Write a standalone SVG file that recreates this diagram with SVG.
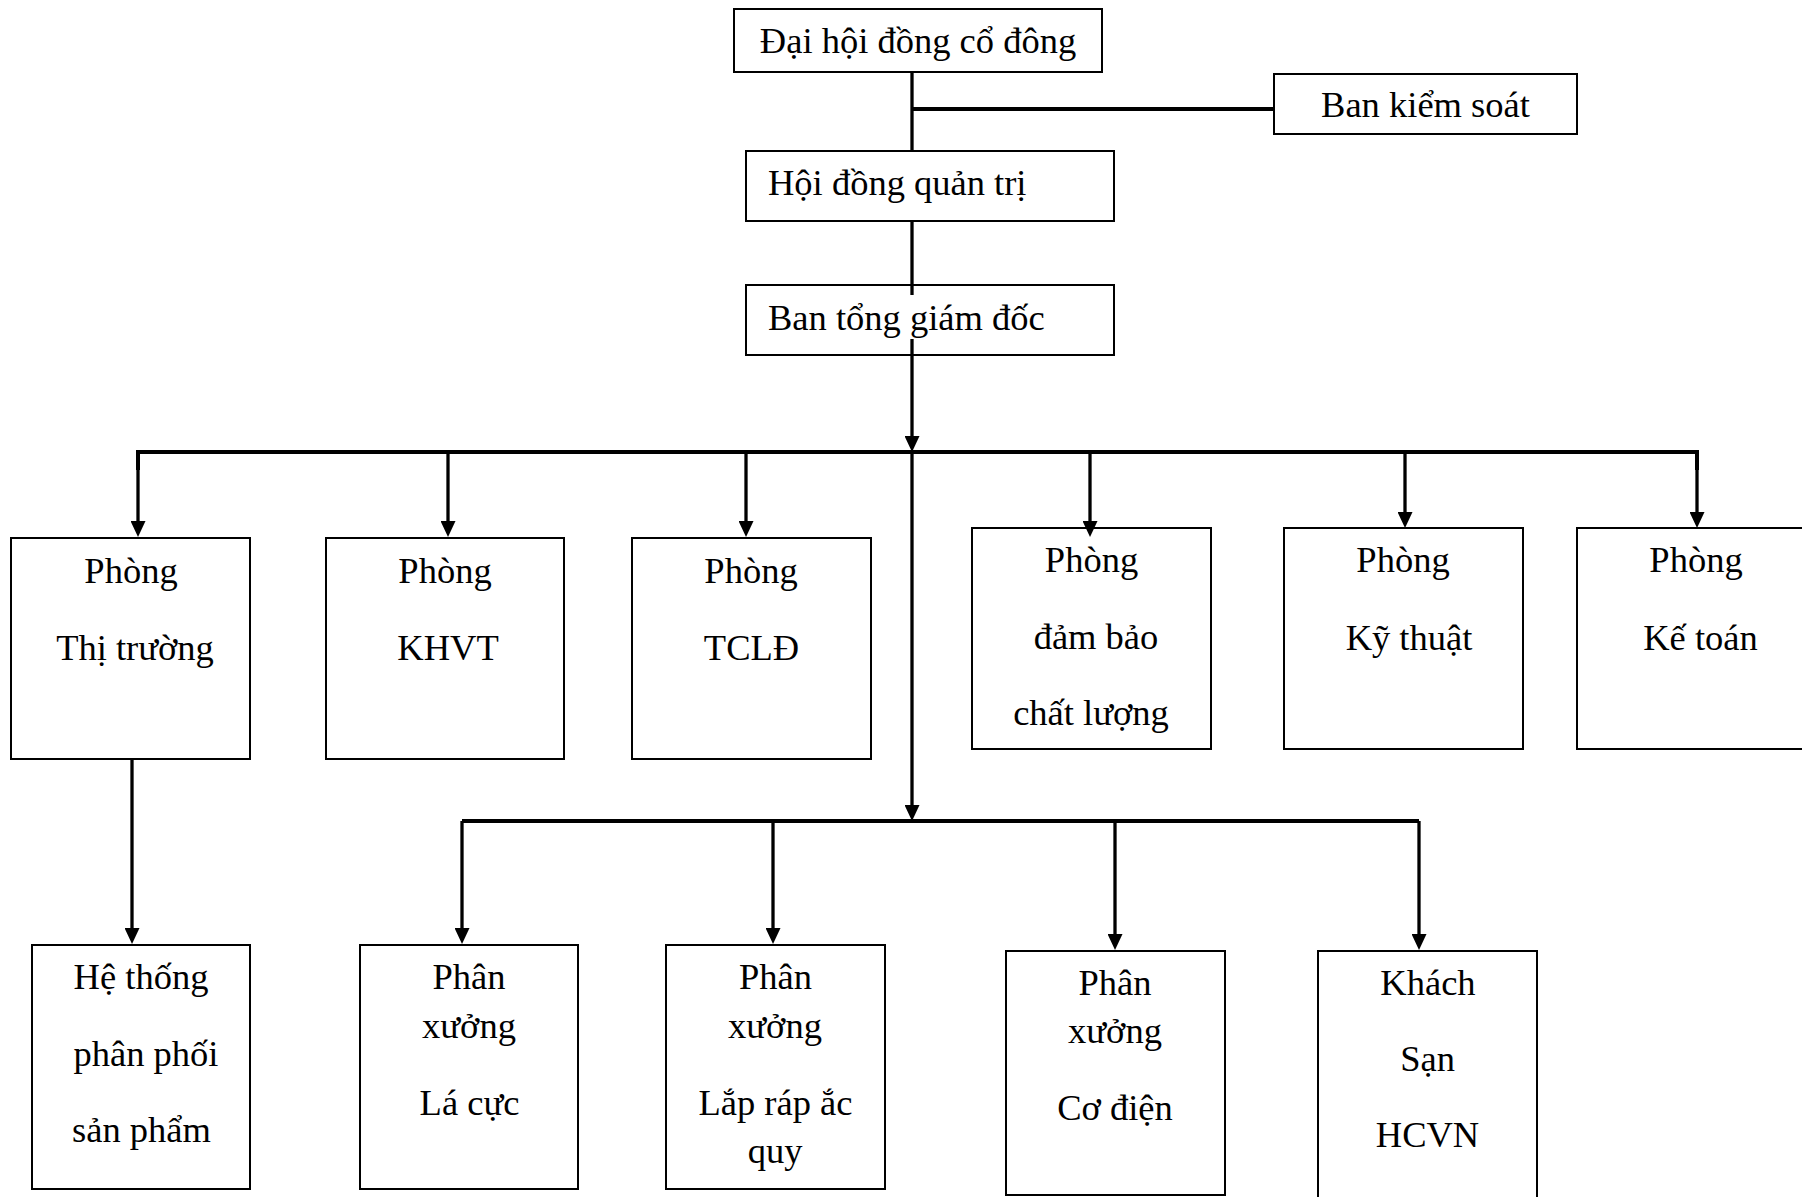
<svg xmlns="http://www.w3.org/2000/svg" width="1802" height="1197" viewBox="0 0 1802 1197">
<style>
.box{fill:#fff;stroke:#000;stroke-width:2}
.t{font-family:"Liberation Serif","Times New Roman",serif;font-size:36.5px;fill:#000}
.c{text-anchor:middle}
.ln{stroke:#000;stroke-width:3.3;fill:none}
.bus{stroke:#000;stroke-width:4;fill:none}
.ar{marker-end:url(#ah)}
</style>
<defs>
<marker id="ah" viewBox="0 0 16 15" markerUnits="userSpaceOnUse" markerWidth="16" markerHeight="15" refX="6" refY="7.5" orient="auto">
<path d="M0,0 L16,7.5 L0,15 z" fill="#000"/>
</marker>
</defs>
<rect width="1802" height="1197" fill="#fff"/>

<g id="dhcd"><rect class="box" x="734" y="9" width="368" height="63"/><text class="t c" x="918" y="53">Đại hội đồng cổ đông</text></g>
<g id="bks"><rect class="box" x="1274" y="74" width="303" height="60"/><text class="t c" x="1425.5" y="117">Ban kiểm soát</text></g>
<g id="hdqt"><rect class="box" x="746" y="151" width="368" height="70"/><text class="t" x="768" y="195">Hội đồng quản trị</text></g>
<g id="btgd"><rect class="box" x="746" y="285" width="368" height="70"/><text class="t" x="768" y="330">Ban tổng giám đốc</text></g>

<g id="p-thitruong"><rect class="box" x="11" y="538" width="239" height="221"/><text class="t c" x="131" y="583">Phòng</text><text class="t c" x="135" y="660">Thị trường</text></g>
<g id="p-khvt"><rect class="box" x="326" y="538" width="238" height="221"/><text class="t c" x="445" y="583">Phòng</text><text class="t c" x="448" y="660">KHVT</text></g>
<g id="p-tcld"><rect class="box" x="632" y="538" width="239" height="221"/><text class="t c" x="751" y="583">Phòng</text><text class="t c" x="751.5" y="660">TCLĐ</text></g>
<g id="p-dbcl"><rect class="box" x="972" y="528" width="239" height="221"/><text class="t c" x="1091.5" y="572">Phòng</text><text class="t c" x="1096" y="649">đảm bảo</text><text class="t c" x="1091" y="725">chất lượng</text></g>
<g id="p-kythuat"><rect class="box" x="1284" y="528" width="239" height="221"/><text class="t c" x="1403" y="572">Phòng</text><text class="t c" x="1409" y="650">Kỹ thuật</text></g>
<g id="p-ketoan"><rect class="box" x="1577" y="528" width="240" height="221"/><text class="t c" x="1696" y="572">Phòng</text><text class="t c" x="1700.5" y="650">Kế toán</text></g>

<g id="htpp"><rect class="box" x="32" y="945" width="218" height="244"/><text class="t c" x="141" y="989">Hệ thống</text><text class="t c" x="146" y="1066">phân phối</text><text class="t c" x="141.5" y="1142">sản phẩm</text></g>
<g id="px-lacuc"><rect class="box" x="360" y="945" width="218" height="244"/><text class="t c" x="469" y="989">Phân</text><text class="t c" x="469" y="1038">xưởng</text><text class="t c" x="469.5" y="1115">Lá cực</text></g>
<g id="px-laprap"><rect class="box" x="666" y="945" width="219" height="244"/><text class="t c" x="775.5" y="989">Phân</text><text class="t c" x="775" y="1038">xưởng</text><text class="t c" x="775.5" y="1115">Lắp ráp ắc</text><text class="t c" x="775" y="1163">quy</text></g>
<g id="px-codien"><rect class="box" x="1006" y="951" width="219" height="244"/><text class="t c" x="1115" y="995">Phân</text><text class="t c" x="1115" y="1043">xưởng</text><text class="t c" x="1115" y="1120">Cơ điện</text></g>
<g id="khachsan"><rect class="box" x="1318" y="951" width="219" height="260"/><text class="t c" x="1428" y="995">Khách</text><text class="t c" x="1427.5" y="1071">Sạn</text><text class="t c" x="1427.5" y="1147">HCVN</text></g>

<g id="connectors">
<line class="ln" x1="912" y1="72" x2="912" y2="151"/>
<line class="bus" x1="912" y1="109" x2="1274" y2="109"/>
<line class="ln" x1="912" y1="221" x2="912" y2="295"/>
<line class="ln ar" x1="912" y1="339" x2="912" y2="442"/>
<polyline class="bus" points="138,470 138,452 1697,452 1697,470"/>
<line class="ln ar" x1="138" y1="452" x2="138" y2="527"/>
<line class="ln ar" x1="448" y1="452" x2="448" y2="527"/>
<line class="ln ar" x1="746" y1="452" x2="746" y2="527"/>
<line class="ln ar" x1="1090" y1="452" x2="1090" y2="527"/>
<line class="ln ar" x1="1405" y1="452" x2="1405" y2="518"/>
<line class="ln ar" x1="1697" y1="452" x2="1697" y2="518"/>
<line class="ln ar" x1="912" y1="452" x2="912" y2="811"/>
<line class="bus" x1="462" y1="821" x2="1419" y2="821"/>
<line class="ln ar" x1="462" y1="821" x2="462" y2="934"/>
<line class="ln ar" x1="773" y1="821" x2="773" y2="934"/>
<line class="ln ar" x1="1115" y1="821" x2="1115" y2="940"/>
<line class="ln ar" x1="1419" y1="821" x2="1419" y2="940"/>
<line class="ln ar" x1="132" y1="759" x2="132" y2="934"/>
</g>
</svg>
